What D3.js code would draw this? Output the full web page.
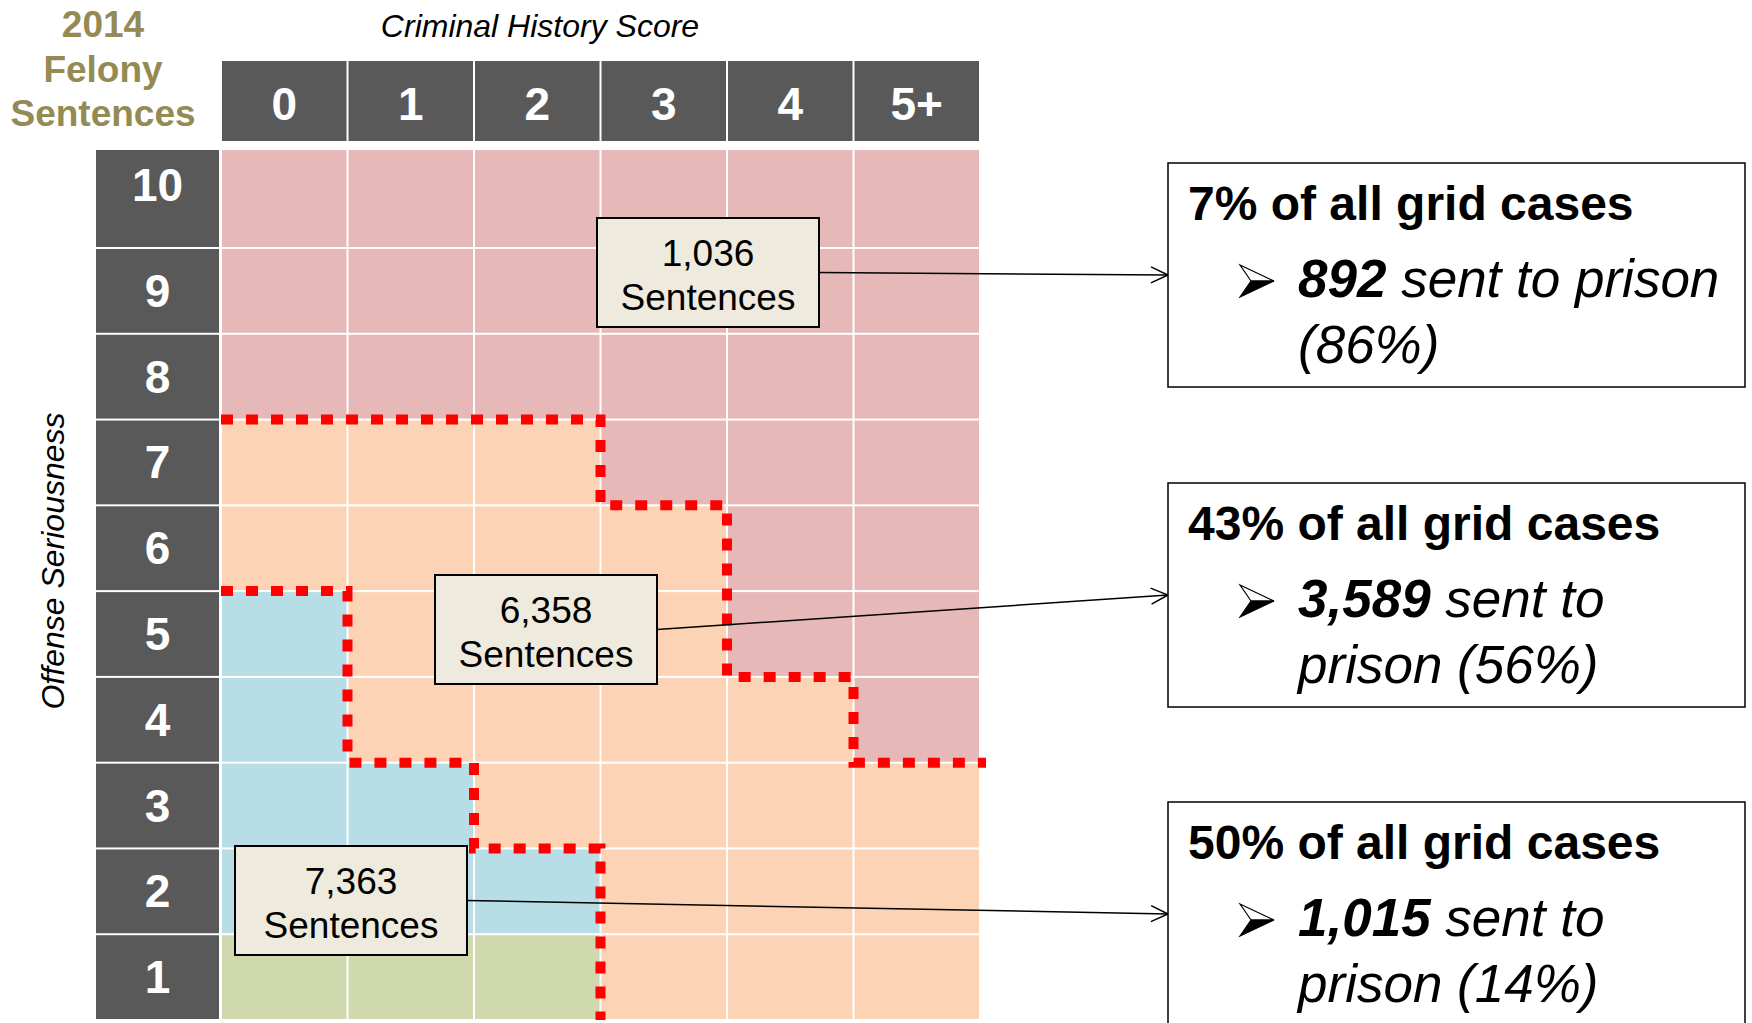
<!DOCTYPE html>
<html>
<head>
<meta charset="utf-8">
<script src="https://cdn.jsdelivr.net/npm/d3@7"></script>
<style>
  body { margin: 0; background: #fff; }
  svg { display: block; font-family: "Liberation Sans", Arial, sans-serif; }
</style>
</head>
<body>
<svg></svg>
<script>
// ---- data ----
const colLabels = ["0", "1", "2", "3", "4", "5+"];
const rowLabels = ["10", "9", "8", "7", "6", "5", "4", "3", "2", "1"];
// zone of each cell, one string per row (top row first)
// P = prison, M = middle, B = blue zone, G = green zone
const zoneRows = [
	"PPPPPP",
	"PPPPPP",
	"PPPPPP",
	"MMMPPP",
	"MMMMPP",
	"BMMMPP",
	"BMMMMP",
	"BBMMMM",
	"BBBMMM",
	"GGGMMM"
];
const zoneKeys = ["P", "M", "B", "G"];
const zoneColors = ["#e6b8b8", "#fcd4b5", "#b7dde7", "#cfd9ad"];

// callouts: prison zone, middle zone, lower zone
const sentences = [1036, 6358, 7363];
const gridShare = [7, 43, 50];
const sentToPrison = [892, 3589, 1015];
const prisonPct = [86, 56, 14];

// ---- layout ----
const svg = d3.select("svg").attr("width", 1752).attr("height", 1023);
const fmt = d3.format(",");
const nRows = rowLabels.length;
const nCols = colLabels.length;

const x = d3.scaleLinear().domain([0, nCols]).range([221, 980]);
// boundary under each seriousness level (0 = bottom of grid, 9 = top of level 9)
const yEdge = d3.scaleLinear().domain([0, nRows - 1]).range([1020, 248]);
const gridTop = 149;
const color = d3.scaleOrdinal().domain(zoneKeys).range(zoneColors);

const levelOf = (i) => nRows - i;
const rowTop = (i) => (levelOf(i) === nRows ? gridTop : yEdge(levelOf(i)));
const rowBottom = (i) => yEdge(levelOf(i) - 1);

// ---- titles ----
svg.append("g")
	.selectAll("text")
	.data(["2014", "Felony", "Sentences"])
	.enter()
	.append("text")
	.attr("x", 103)
	.attr("y", 37)
	.attr("y", (_, i) => 37 + i * 44.5)
	.attr("text-anchor", "middle")
	.attr("font-size", 37)
	.attr("font-weight", "bold")
	.attr("fill", "#948a54")
	.text((d) => d);

svg.append("text")
	.attr("x", 540)
	.attr("y", 37)
	.attr("text-anchor", "middle")
	.attr("font-size", 32)
	.attr("font-style", "italic")
	.text("Criminal History Score");

svg.append("text")
	.attr("transform", "translate(64,561) rotate(-90)")
	.attr("text-anchor", "middle")
	.attr("font-size", 32)
	.attr("font-style", "italic")
	.text("Offense Seriousness");

// ---- column headers ----
const colHead = svg.append("g")
	.selectAll("g")
	.data(colLabels)
	.enter()
	.append("g");

colHead.append("rect")
	.attr("x", (_, j) => x(j) + 1)
	.attr("y", 61)
	.attr("width", (_, j) => x(j + 1) - x(j) - 2)
	.attr("height", 80)
	.attr("fill", "#595959");

colHead.append("text")
	.attr("x", (_, j) => (x(j) + x(j + 1)) / 2)
	.attr("y", 120)
	.attr("text-anchor", "middle")
	.attr("font-size", 46)
	.attr("font-weight", "bold")
	.attr("fill", "#fff")
	.text((d) => d);

// ---- row headers ----
const rowHead = svg.append("g")
	.selectAll("g")
	.data(rowLabels)
	.enter()
	.append("g");

rowHead.append("rect")
	.attr("x", 96)
	.attr("y", (_, i) => rowTop(i) + 1)
	.attr("width", 123)
	.attr("height", (_, i) => rowBottom(i) - rowTop(i) - 2)
	.attr("fill", "#595959");

rowHead.append("text")
	.attr("x", 157.5)
	.attr("y", (_, i) => rowTop(i) + Math.min(rowBottom(i) - rowTop(i), 86) / 2 + (i === 0 ? 9 : 16))
	.attr("text-anchor", "middle")
	.attr("font-size", 46)
	.attr("font-weight", "bold")
	.attr("fill", "#fff")
	.text((d) => d);

// ---- cells ----
const cells = rowLabels.flatMap((r, i) =>
	colLabels.map((c, j) => ({ r, c, i, j, zone: zoneRows[i][j] }))
);

svg.append("g")
	.selectAll("rect")
	.data(cells)
	.enter()
	.append("rect")
	.attr("x", (d) => x(d.j) + 1)
	.attr("y", (d) => rowTop(d.i) + 1)
	.attr("width", (d) => x(d.j + 1) - x(d.j) - 2)
	.attr("height", (d) => rowBottom(d.i) - rowTop(d.i) - 2)
	.attr("fill", (d) => color(d.zone));

// ---- dashed zone boundaries, traced from the zone matrix ----
function stairs(test) {
	const pts = [];
	let prev = 0;
	zoneRows.forEach((row, i) => {
		const n = row.split("").filter(test).length;
		if (n !== prev) {
			pts.push([x(prev), rowTop(i)], [x(n) + (n === nCols ? 6 : 0), rowTop(i)]);
			prev = n;
		}
	});
	if (prev > 0 && prev < nCols) pts.push([x(prev), yEdge(0)]);
	return pts;
}

const boundaries = [
	stairs((z) => z !== "P"),
	stairs((z) => z === "B" || z === "G")
];

svg.append("g")
	.selectAll("path")
	.data(boundaries)
	.enter()
	.append("path")
	.attr("d", d3.line())
	.attr("fill", "none")
	.attr("stroke", "#ff0000")
	.attr("stroke-width", 10)
	.attr("stroke-dasharray", "12 13");

// ---- callouts ----
const defs = svg.append("defs");
defs.append("marker")
	.attr("id", "arrow")
	.attr("markerUnits", "userSpaceOnUse")
	.attr("viewBox", "-20 -10 22 20")
	.attr("refX", 0)
	.attr("refY", 0)
	.attr("markerWidth", 22)
	.attr("markerHeight", 20)
	.attr("orient", "auto")
	.append("path")
	.attr("d", "M-17,-8L0,0L-17,8")
	.attr("fill", "none")
	.attr("stroke", "#000")
	.attr("stroke-width", 1.5);

const noteBox = [
	{ x: 597, y: 218, w: 222 },
	{ x: 435, y: 575, w: 222 },
	{ x: 235, y: 846, w: 232 }
];
const noteH = 109;
const bigX = 1168, bigW = 577, bigH = 224;
const bigTop = [163, 483, 802];

// connectors
svg.append("g")
	.selectAll("line")
	.data(sentences)
	.enter()
	.append("line")
	.attr("x1", (_, k) => noteBox[k].x + noteBox[k].w)
	.attr("y1", (_, k) => noteBox[k].y + noteH / 2)
	.attr("x2", bigX)
	.attr("y2", (_, k) => bigTop[k] + bigH / 2)
	.attr("stroke", "#000")
	.attr("stroke-width", 1.5)
	.attr("marker-end", "url(#arrow)");

// small boxes on the grid
const notes = svg.append("g")
	.selectAll("g")
	.data(sentences)
	.enter()
	.append("g")
	.attr("transform", (_, k) => `translate(${noteBox[k].x},${noteBox[k].y})`);

notes.append("rect")
	.attr("width", (_, k) => noteBox[k].w)
	.attr("height", noteH)
	.attr("fill", "#eeeade")
	.attr("stroke", "#000")
	.attr("stroke-width", 2);

notes.append("text")
	.attr("x", (_, k) => noteBox[k].w / 2)
	.attr("y", 48)
	.attr("text-anchor", "middle")
	.attr("font-size", 37)
	.text((d) => fmt(d));

notes.append("text")
	.attr("x", (_, k) => noteBox[k].w / 2)
	.attr("y", 92)
	.attr("text-anchor", "middle")
	.attr("font-size", 37)
	.text("Sentences");

// big boxes on the right
const big = svg.append("g")
	.selectAll("g")
	.data(gridShare)
	.enter()
	.append("g")
	.attr("transform", (_, k) => `translate(${bigX},${bigTop[k]})`);

big.append("rect")
	.attr("width", bigW)
	.attr("height", bigH)
	.attr("fill", "#fff")
	.attr("stroke", "#000")
	.attr("stroke-width", 1.5);

big.append("text")
	.attr("x", 20)
	.attr("y", 57)
	.attr("font-size", 48)
	.attr("font-weight", "bold")
	.text((d) => `${d}% of all grid cases`);

// arrowhead bullet
big.append("path")
	.attr("d", "M72,102L106,118L83,118Z")
	.attr("fill", "#fff")
	.attr("stroke", "#000")
	.attr("stroke-width", 1.2);
big.append("path")
	.attr("d", "M83,118L106,118L72,134Z")
	.attr("fill", "#000")
	.attr("stroke", "#000")
	.attr("stroke-width", 1.2);

// wrapped bullet text
const maxW = bigW - 130 - 12;
big.each(function (_, k) {
	const g = d3.select(this);
	const words = ["sent", "to", "prison", `(${prisonPct[k]}%)`];
	let lineNo = 0;
	let t = g.append("text")
		.attr("x", 130)
		.attr("y", 134)
		.attr("font-size", 53)
		.attr("font-style", "italic");
	t.append("tspan").attr("font-weight", "bold").text(fmt(sentToPrison[k]));
	let rest = t.append("tspan");
	let line = [];
	words.forEach((w) => {
		const trial = line.concat(w);
		rest.text((lineNo === 0 ? " " : "") + trial.join(" "));
		if (t.node().getComputedTextLength() > maxW && line.length) {
			rest.text((lineNo === 0 ? " " : "") + line.join(" "));
			lineNo += 1;
			t = g.append("text")
				.attr("x", 130)
				.attr("y", 134 + lineNo * 66)
				.attr("font-size", 53)
				.attr("font-style", "italic");
			rest = t.append("tspan").text(w);
			line = [w];
		} else {
			line = trial;
		}
	});
});
</script>
</body>
</html>
